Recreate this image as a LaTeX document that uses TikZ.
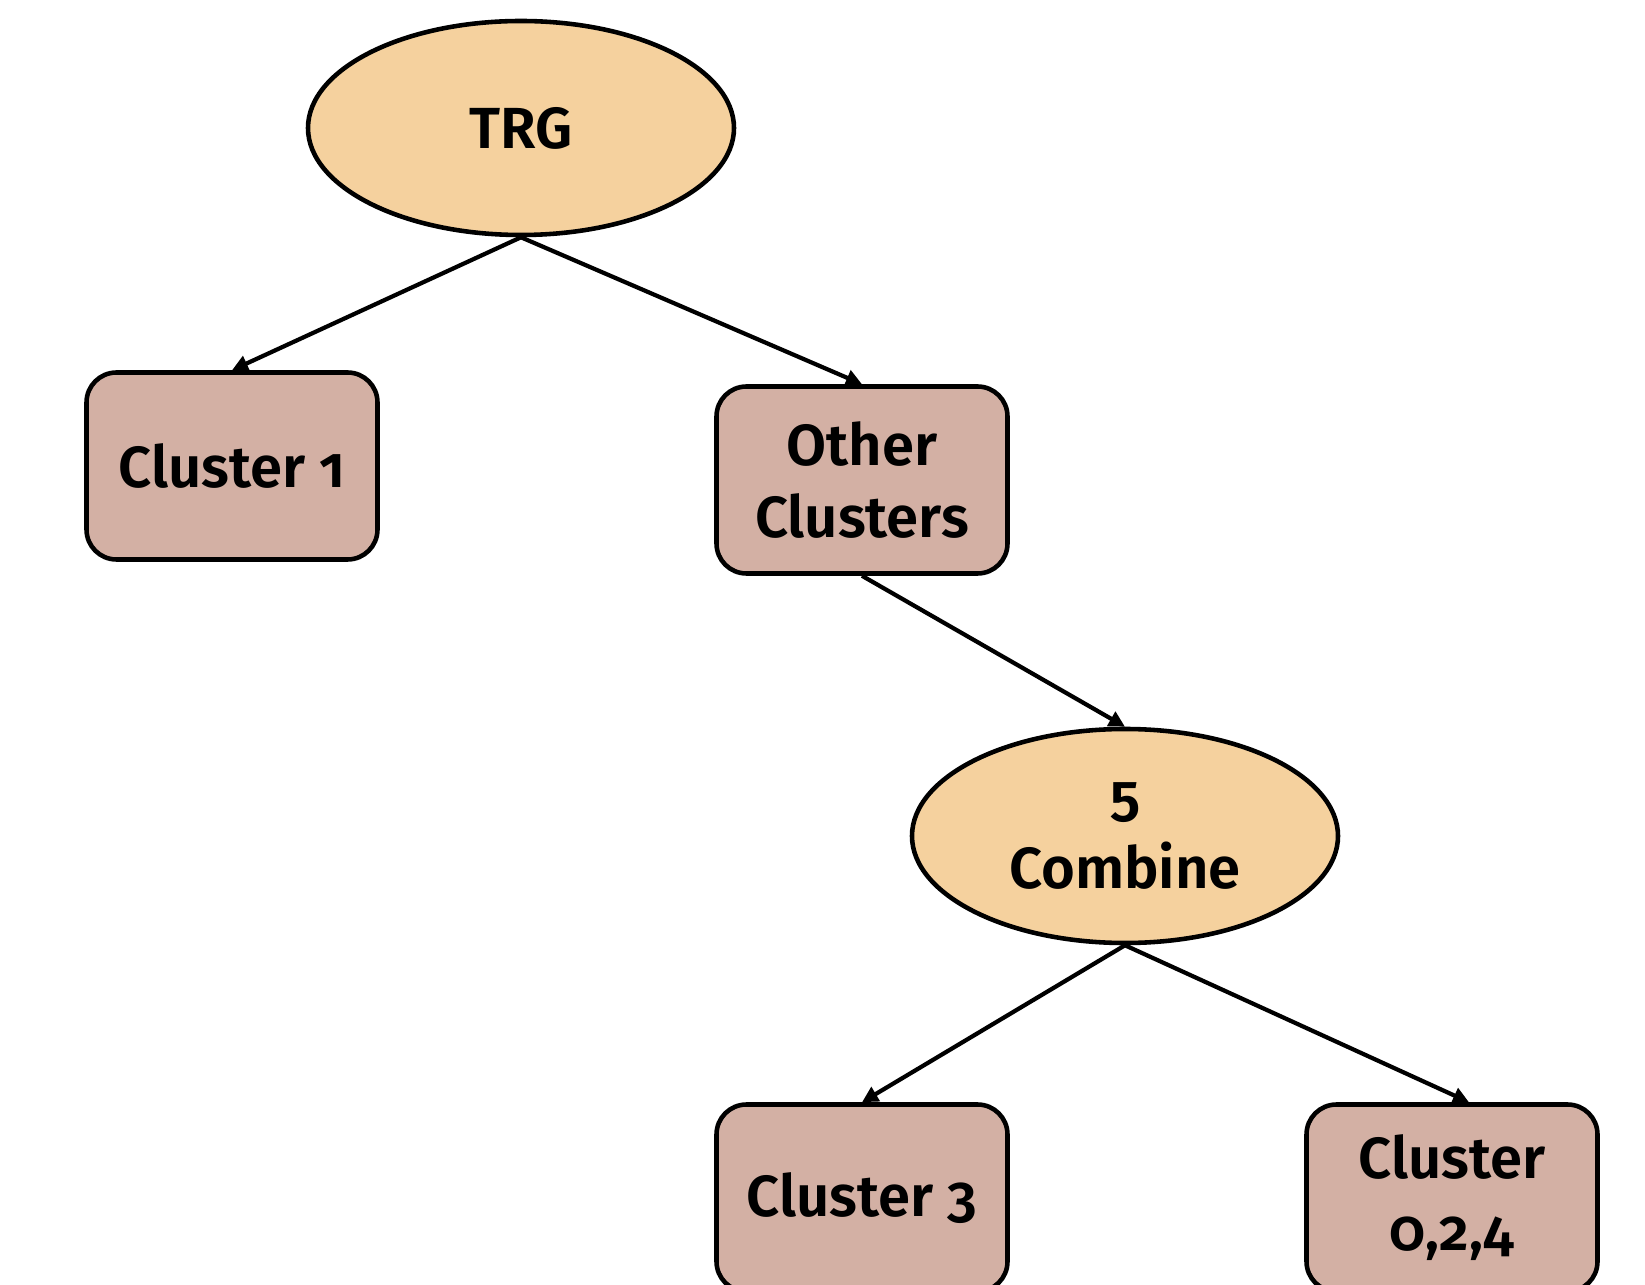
\documentclass[tikz,border=0pt]{standalone}
\usepackage{fontspec}
\setmainfont{Fira Sans}[Numbers=OldStyle, BoldFont={Fira Sans SemiBold}]
\usetikzlibrary{shapes.geometric,arrows.meta}

\definecolor{combfill}{RGB}{245,209,158}
\definecolor{clusfill}{RGB}{211,176,164}

\tikzset{
  combnode/.style={shape=ellipse, draw, line width=1.3pt, fill=combfill, align=center,
    minimum width=4.26cm, minimum height=2.14cm, inner sep=0pt},
  clusnode/.style={shape=rectangle, rounded corners=0.3cm, draw, line width=1.3pt, fill=clusfill,
    align=center, minimum width=2.91cm, minimum height=1.87cm, inner sep=0pt},
  link/.style={line width=1.2pt, -{Triangle[length=1.6mm,width=1.6mm]}}
}

\begin{document}
\begin{tikzpicture}[font=\fontsize{16.5}{20.5}\selectfont\bfseries]
\useasboundingbox (0,0) rectangle (16.45,-12.85);

\node[combnode] (trg) at (5.21,-1.28) {TRG};
\node[clusnode] (c1) at (2.32,-4.66) {Cluster 1};
\node[clusnode] (other) at (8.62,-4.80) {Other\\Clusters};
\node[combnode] (comb) at (11.25,-8.36) {5\\Combine};
\node[clusnode] (c3) at (8.62,-11.98) {Cluster 3};
\node[clusnode] (c024) at (14.52,-11.98) {Cluster\\0,2,4};

\draw[link] (trg.south) -- (c1.north);
\draw[link] (trg.south) -- (other.north);
\draw[link] (other.south) -- (comb.north);
\draw[link] (comb.south) -- (c3.north);
\draw[link] (comb.south) -- ([xshift=0.17cm]c024.north);
\end{tikzpicture}
\end{document}
